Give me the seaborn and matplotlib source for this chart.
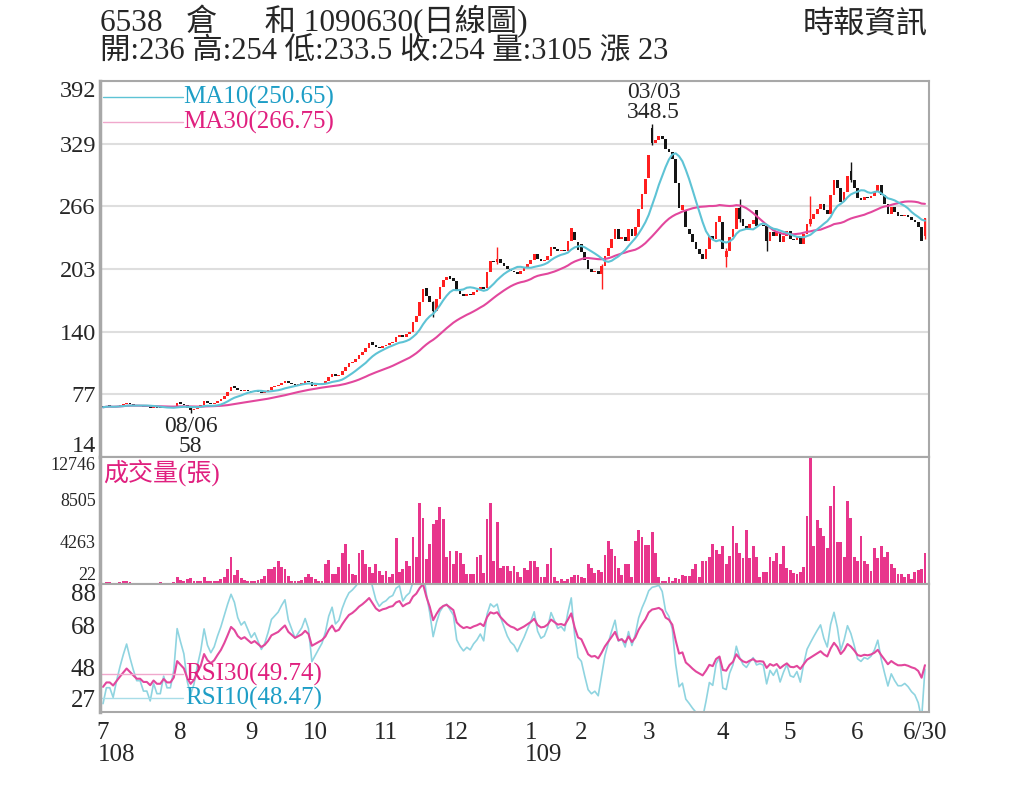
import numpy as np
import pandas as pd
import matplotlib
matplotlib.use("Agg")
import matplotlib.pyplot as plt
import seaborn as sns

# trading days per month, 108/07 .. 109/06
month_days = [23, 21, 19, 21, 21, 22, 15, 20, 22, 20, 20, 21]
month_labels = ["7", "8", "9", "10", "11", "12", "1", "2", "3", "4", "5", "6", "6/30"]

# daily close, one row per month
close = [
    64, 65, 65, 64, 65, 66, 67, 68, 67, 66, 65, 65, 64, 64, 63, 64, 63, 63, 64, 63, 63, 64, 68,
    67, 66, 63, 61, 62, 64, 66, 70, 68, 67, 68, 70, 72, 75, 79, 84, 83, 81, 80, 81, 80,
    79, 80, 79, 78, 79, 81, 84, 85, 86, 88, 90, 88, 87, 86, 87, 88, 90, 89, 85,
    86, 87, 88, 90, 94, 97, 95, 96, 100, 104, 108, 110, 113, 117, 120, 124, 129, 127, 125, 124, 126,
    127, 129, 130, 135, 137, 135, 138, 140, 150, 156, 170, 183, 176, 170, 161, 173, 185, 192, 195, 193, 191,
    181, 178, 176, 178, 177, 180, 182, 185, 183, 200, 211, 210, 213, 209, 206, 203, 201, 200, 198, 201, 204, 208,
    212, 218, 213, 211, 212, 216, 225, 223, 221, 222, 221, 231, 244, 232, 222,
    220, 212, 203, 200, 201, 198, 206, 216, 224, 233, 243, 233, 235, 231, 243, 236, 245, 263, 278, 293,
    318, 330, 333, 337, 334, 324, 321, 314, 289, 264, 267, 245, 238, 230, 223, 218, 213, 223, 236, 233, 250, 256,
    223, 221, 235, 243, 264, 253, 246, 243, 248, 252, 246, 247, 246, 231, 240, 236, 240, 230, 236, 241,
    233, 232, 235, 228, 238, 248, 253, 258, 263, 268, 262, 258, 277, 292, 284, 270, 280, 297, 292, 284,
    274, 272, 275, 274, 276, 280, 287, 277, 268, 258, 265, 260, 256, 256, 257, 255, 252, 250, 245, 231, 254,
]

# daily open
open_ = [
    65, 64, 65, 65, 64, 65, 66, 67, 68, 67, 66, 65, 65, 64, 64, 63, 64, 64, 63, 64, 63, 63, 64,
    69, 67, 66, 63, 61, 62, 64, 66, 70, 68, 67, 68, 70, 72, 75, 80, 85, 83, 81, 80, 81,
    80, 79, 80, 79, 78, 79, 81, 84, 85, 86, 88, 90, 88, 87, 86, 87, 88, 90, 89,
    85, 86, 87, 88, 90, 94, 97, 95, 96, 100, 104, 108, 110, 113, 117, 120, 124, 130, 127, 125, 124,
    126, 127, 129, 130, 135, 137, 135, 138, 140, 150, 156, 170, 184, 176, 170, 161, 173, 185, 192, 196, 194,
    191, 181, 178, 176, 178, 177, 180, 182, 185, 184, 200, 211, 210, 213, 209, 206, 203, 201, 200, 198, 201, 204,
    208, 212, 218, 213, 211, 212, 216, 225, 223, 221, 222, 221, 231, 240, 230,
    228, 220, 212, 203, 200, 201, 198, 206, 216, 224, 233, 243, 233, 235, 231, 243, 236, 245, 263, 278,
    295, 345, 330, 333, 337, 334, 324, 321, 314, 289, 262, 262, 243, 238, 230, 223, 218, 213, 223, 236, 233, 250,
    250, 215, 221, 235, 243, 264, 253, 246, 243, 248, 262, 247, 247, 246, 231, 240, 236, 240, 230, 236,
    241, 233, 232, 235, 228, 238, 248, 253, 258, 263, 268, 262, 258, 277, 292, 284, 270, 280, 302, 292,
    284, 274, 272, 275, 274, 276, 280, 287, 277, 268, 258, 265, 260, 256, 256, 257, 255, 252, 250, 245, 236,
]

# visible shadows (day index, high, low)
wick_days = [26, 98, 117, 148, 163, 185, 189, 197, 210, 222, 244]
wick_high = [63, 171, 225, 208, 348.5, 224, 273, 247, 276, 311, 254]
wick_low = [58, 155, 208, 183, 328, 205, 250, 221, 246, 290, 233.5]

# daily volume (張)
volume = [
    150, 200, 180, 120, 150, 250, 350, 300, 200, 150, 120, 100, 100, 150, 120, 100, 150, 200, 120, 100, 150, 250, 700,
    400, 300, 500, 600, 350, 300, 300, 700, 350, 300, 300, 350, 500, 700, 1500, 2700, 900, 1400, 600, 400, 300,
    300, 300, 400, 500, 800, 1500, 1500, 1700, 2300, 1700, 1500, 800, 300, 300, 300, 400, 700, 1000, 700,
    500, 300, 300, 2000, 2400, 1000, 1000, 1700, 3100, 4000, 2000, 1000, 900, 3100, 3400, 2000, 1700, 1100, 2000, 1300, 900,
    1300, 700, 1000, 4600, 1200, 1500, 2300, 1800, 4700, 2700, 8100, 6600, 2500, 4000, 6000, 6400, 7700, 6500, 2700, 3300, 2000,
    3300, 3100, 2000, 1000, 1000, 1000, 2700, 2900, 1100, 6500, 8100, 2300, 6200, 1600, 1800, 1800, 1300, 1800, 1200, 700, 1600, 1400,
    2300, 2300, 1700, 700, 700, 2000, 3600, 700, 300, 500, 300, 500, 700, 900, 900,
    700, 600, 2000, 1600, 1100, 1400, 1200, 2900, 4300, 3500, 2800, 1600, 900, 2000, 2000, 700, 4300, 5400, 4700, 3900,
    3900, 5200, 3100, 700, 300, 300, 700, 300, 600, 500, 900, 800, 800, 1500, 2000, 700, 2300, 2300, 2700, 4000, 3400, 3000,
    3800, 2000, 2800, 5800, 4100, 3100, 2600, 5400, 2600, 3800, 2700, 700, 1200, 1200, 2700, 2300, 3100, 2000, 3800, 1600,
    1400, 1100, 1000, 1200, 1700, 6800, 12746, 3800, 6400, 5600, 4800, 3600, 7800, 9800, 4200, 4200, 2700, 8300, 6600, 2700,
    2300, 4800, 2300, 2000, 1300, 3600, 2600, 3800, 2700, 3200, 2000, 1600, 1000, 1000, 700, 1000, 500, 1200, 1400, 1500, 3105,
]

hi_date, lo_date = "03/03", "08/06"
# RSI level at the left edge of the chart
rsi10_start, rsi30_start = 31, 39

o = np.array(open_, dtype=float)
c = np.array(close, dtype=float)
idx = np.arange(len(c))
s = pd.Series(c)
ma10 = s.rolling(10, min_periods=1).mean()
ma30 = s.rolling(30, min_periods=1).mean()


def rsi(closes, period, start):
    # Wilder smoothing, seeded with the level shown at the left edge
    up, dn = start / 100, 1 - start / 100
    out, prev = [], closes[0]
    for x in closes:
        d = x - prev
        prev = x
        up = (up * (period - 1) + max(d, 0)) / period
        dn = (dn * (period - 1) + max(-d, 0)) / period
        out.append(100 * up / (up + dn))
    return np.array(out)


rsi10 = rsi(c, 10, rsi10_start)
rsi30 = rsi(c, 30, rsi30_start)

tick_pos = list(np.concatenate([[0], np.cumsum(month_days)[:-1]])) + [len(c) - 1]

sns.set_style("white")
plt.rcParams["font.family"] = ["Liberation Serif", "Noto Sans CJK TC"]
plt.rcParams["axes.unicode_minus"] = False

CYAN_LINE, CYAN_TXT = "#5ec3d5", "#1e9ec6"
PINK_LINE, PINK_TXT = "#e2479d", "#e0207f"
SPINE = "#a8a8a8"

fig = plt.figure(figsize=(10.24, 7.86), dpi=100)
L, W = 100 / 1024, 829 / 1024
ax_p = fig.add_axes([L, 0.4186, W, 0.4783])
ax_v = fig.add_axes([L, 0.2570, W, 0.1616])
ax_r = fig.add_axes([L, 0.0941, W, 0.1629])

xlim = (-0.9, len(c) + 0.2)

# --- price panel
col = np.where(c > o, "#ff1f1f", "#151515")
ax_p.vlines(wick_days, wick_low, wick_high, color=col[wick_days], lw=1, zorder=2)
ax_p.bar(idx, np.maximum(np.abs(c - o), 1.0), bottom=np.minimum(o, c), width=0.8,
         color=col, linewidth=0, zorder=3)
sns.lineplot(x=idx, y=ma30, ax=ax_p, color=PINK_LINE, lw=1.5, estimator=None, zorder=4)
sns.lineplot(x=idx, y=ma10, ax=ax_p, color=CYAN_LINE, lw=1.5, estimator=None, zorder=4)

ax_p.plot([0.004, 0.1], [0.957, 0.957], transform=ax_p.transAxes, color=CYAN_LINE, lw=1)
ax_p.text(0.1, 0.957, "MA10(250.65)", transform=ax_p.transAxes, color=CYAN_TXT,
          fontsize=18, va="center", ha="left")
ax_p.plot([0.004, 0.1], [0.891, 0.891], transform=ax_p.transAxes, color="#f0a8cc", lw=1)
ax_p.text(0.1, 0.891, "MA30(266.75)", transform=ax_p.transAxes, color=PINK_TXT,
          fontsize=18, va="center", ha="left")

k_hi = int(np.argmax(wick_high))
k_lo = int(np.argmin(wick_low))
ax_p.annotate(f"{hi_date}\n{wick_high[k_hi]:g}", xy=(wick_days[k_hi], wick_high[k_hi]),
              xytext=(1, 1), textcoords="offset points", ha="center", va="bottom",
              fontsize=17, linespacing=0.95)
ax_p.annotate(f"{lo_date}\n{wick_low[k_lo]:g}", xy=(wick_days[k_lo], wick_low[k_lo]),
              xytext=(0, -2), textcoords="offset points", ha="center", va="top",
              fontsize=17, linespacing=0.95)

ax_p.set_ylim(14, 392)
p_ticks = [14, 77, 140, 203, 266, 329, 392]
ax_p.set_yticks(p_ticks, labels=[str(t) for t in p_ticks])
ax_p.yaxis.grid(True, color="#dedede", lw=1.5)
ax_p.xaxis.grid(False)
ax_p.set_axisbelow(True)

# --- volume panel
sns.barplot(x=idx, y=volume, ax=ax_v, native_scale=True, color="#e8358c",
            saturation=1, width=0.85, errorbar=None, linewidth=0)
ax_v.text(0.004, 0.88, "成交量(張)", transform=ax_v.transAxes, color=PINK_TXT,
          fontsize=18, va="center", ha="left")
ax_v.set_ylim(22, 12746)
v_ticks = [22, 4263, 8505, 12746]
ax_v.set_yticks(v_ticks, labels=[str(t) for t in v_ticks])

# --- RSI panel
sns.lineplot(x=idx, y=rsi10, ax=ax_r, color="#8fd4e0", lw=1.2, estimator=None)
sns.lineplot(x=idx, y=rsi30, ax=ax_r, color=PINK_LINE, lw=1.5, estimator=None)
ax_r.plot([0.0, 0.1], [0.297, 0.297], transform=ax_r.transAxes, color="#f0a8cc", lw=1)
ax_r.text(0.103, 0.297, "RSI30(49.74)", transform=ax_r.transAxes, color=PINK_TXT,
          fontsize=18, va="center", ha="left")
ax_r.plot([0.0, 0.1], [0.109, 0.109], transform=ax_r.transAxes, color="#a8dde8", lw=1)
ax_r.text(0.103, 0.109, "RSI10(48.47)", transform=ax_r.transAxes, color=CYAN_TXT,
          fontsize=18, va="center", ha="left")
ax_r.set_ylim(27, 88)
r_ticks = [27, 48, 68, 88]
ax_r.set_yticks(r_ticks, labels=[str(t) for t in r_ticks])

ax_r.set_xticks(tick_pos, labels=month_labels)
ax_r.tick_params(axis="x", length=4, width=1, color=SPINE, pad=3, labelsize=18)
for yr, pos in (("108", tick_pos[0]), ("109", tick_pos[6])):
    ax_r.annotate(yr, xy=(pos, 0), xycoords=("data", "axes fraction"), xytext=(-4, -31),
                  textcoords="offset points", ha="left", va="center", fontsize=18)

for ax, fs in ((ax_p, 17.5), (ax_v, 13), (ax_r, 18)):
    ax.set_xlim(*xlim)
    ax.set_xlabel("")
    ax.set_ylabel("")
    ax.tick_params(axis="y", length=0, pad=3, labelsize=fs)
    labs = ax.get_yticklabels()
    labs[0].set_va("bottom")
    labs[-1].set_va("top")
    for side, sp in ax.spines.items():
        sp.set_color(SPINE)
        sp.set_linewidth(2.5 if side == "left" else 1.5)
    if ax is not ax_r:
        ax.tick_params(axis="x", bottom=False, labelbottom=False)

# --- header
fig.text(L, 1 - 22 / 786, "6538   倉      和 1090630(日線圖)", fontsize=22.5, va="center", ha="left")
fig.text(L, 1 - 51 / 786,
         f"開:{o[-1]:g} 高:{wick_high[-1]:g} 低:{wick_low[-1]:g} 收:{c[-1]:g} "
         f"量:{volume[-1]} 漲 {c[-1] - c[-2]:g}",
         fontsize=22, va="center", ha="left")
fig.text(928 / 1024, 1 - 25 / 786, "時報資訊", fontsize=22.5, va="center", ha="right")

fig.savefig("out.png", dpi=100)
